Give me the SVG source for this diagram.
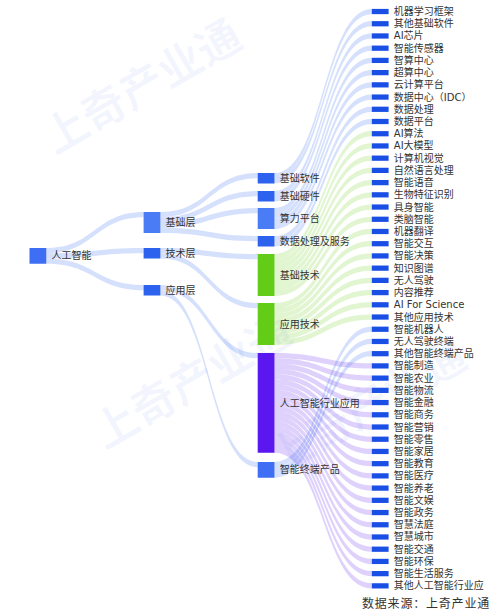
<svg xmlns="http://www.w3.org/2000/svg" width="500" height="615" viewBox="0 0 500 615">
<style>
text{font-family:"DejaVu Sans","Noto Sans CJK SC",sans-serif;font-size:10px;fill:#333;dominant-baseline:central}
.wm{font-family:"Noto Sans CJK SC",sans-serif;font-size:44px;font-weight:bold;fill:#2f66ee;fill-opacity:0.06;text-anchor:middle;dominant-baseline:auto}
.lb{fill:#2d62ee;fill-opacity:0.2}
.lg{fill:#62cc16;fill-opacity:0.2}
.lp{fill:#5b17f0;fill-opacity:0.2}
.leaf rect{fill:#1a4fe6}
.src{font-family:"Noto Sans CJK SC",sans-serif;font-size:12px;letter-spacing:0.8px;fill:#333;dominant-baseline:auto}
</style>
<rect width="500" height="615" fill="#ffffff"/>
<g id="watermark">
<text class="wm" transform="translate(150,100) rotate(-30)">上奇产业通</text>
<text class="wm" transform="translate(200,395) rotate(-30)">上奇产业通</text>
<text class="wm" transform="translate(375,420) rotate(-30)">上奇产业通</text>
</g>
<g id="links">
<path class="lb" d="M46.3 248c48.65 0 48.65 -36 97.3 -36l0 5.25c-48.65 0 -48.65 36 -97.3 36z"/>
<path class="lb" d="M46.3 253.25c48.65 0 48.65 -5.25 97.3 -5.25l0 5.25c-48.65 0 -48.65 5.25 -97.3 5.25z"/>
<path class="lb" d="M46.3 258.5c48.65 0 48.65 26.5 97.3 26.5l0 5.25c-48.65 0 -48.65 -26.5 -97.3 -26.5z"/>
<path class="lb" d="M160.4 212c48.65 0 48.65 -39 97.3 -39l0 5.25c-48.65 0 -48.65 39 -97.3 39z"/>
<path class="lb" d="M160.4 217.25c48.65 0 48.65 -26.25 97.3 -26.25l0 5.25c-48.65 0 -48.65 26.25 -97.3 26.25z"/>
<path class="lb" d="M160.4 222.5c48.65 0 48.65 -14.5 97.3 -14.5l0 5.25c-48.65 0 -48.65 14.5 -97.3 14.5z"/>
<path class="lb" d="M160.4 227.75c48.65 0 48.65 8.25 97.3 8.25l0 5.25c-48.65 0 -48.65 -8.25 -97.3 -8.25z"/>
<path class="lb" d="M160.4 248c48.65 0 48.65 6 97.3 6l0 5.25c-48.65 0 -48.65 -6 -97.3 -6z"/>
<path class="lb" d="M160.4 253.25c48.65 0 48.65 49.75 97.3 49.75l0 5.25c-48.65 0 -48.65 -49.75 -97.3 -49.75z"/>
<path class="lb" d="M160.4 285c48.65 0 48.65 68 97.3 68l0 5.25c-48.65 0 -48.65 -68 -97.3 -68z"/>
<path class="lb" d="M160.4 290.25c48.65 0 48.65 171.75 97.3 171.75l0 5.25c-48.65 0 -48.65 -171.75 -97.3 -171.75z"/>
<path class="lb" d="M274.5 173c48.65 0 48.65 -164.1 97.3 -164.1l0 5.25c-48.65 0 -48.65 164.1 -97.3 164.1z"/>
<path class="lb" d="M274.5 178.25c48.65 0 48.65 -157.13 97.3 -157.13l0 5.25c-48.65 0 -48.65 157.13 -97.3 157.13z"/>
<path class="lb" d="M274.5 191c48.65 0 48.65 -157.66 97.3 -157.66l0 5.25c-48.65 0 -48.65 157.66 -97.3 157.66z"/>
<path class="lb" d="M274.5 196.25c48.65 0 48.65 -150.69 97.3 -150.69l0 5.25c-48.65 0 -48.65 150.69 -97.3 150.69z"/>
<path class="lb" d="M274.5 208c48.65 0 48.65 -150.22 97.3 -150.22l0 5.25c-48.65 0 -48.65 150.22 -97.3 150.22z"/>
<path class="lb" d="M274.5 213.25c48.65 0 48.65 -143.25 97.3 -143.25l0 5.25c-48.65 0 -48.65 143.25 -97.3 143.25z"/>
<path class="lb" d="M274.5 218.5c48.65 0 48.65 -136.28 97.3 -136.28l0 5.25c-48.65 0 -48.65 136.28 -97.3 136.28z"/>
<path class="lb" d="M274.5 223.75c48.65 0 48.65 -129.31 97.3 -129.31l0 5.25c-48.65 0 -48.65 129.31 -97.3 129.31z"/>
<path class="lb" d="M274.5 236c48.65 0 48.65 -129.34 97.3 -129.34l0 5.25c-48.65 0 -48.65 129.34 -97.3 129.34z"/>
<path class="lb" d="M274.5 241.25c48.65 0 48.65 -122.37 97.3 -122.37l0 5.25c-48.65 0 -48.65 122.37 -97.3 122.37z"/>
<path class="lg" d="M274.5 254c48.65 0 48.65 -122.9 97.3 -122.9l0 5.25c-48.65 0 -48.65 122.9 -97.3 122.9z"/>
<path class="lg" d="M274.5 259.25c48.65 0 48.65 -115.93 97.3 -115.93l0 5.25c-48.65 0 -48.65 115.93 -97.3 115.93z"/>
<path class="lg" d="M274.5 264.5c48.65 0 48.65 -108.96 97.3 -108.96l0 5.25c-48.65 0 -48.65 108.96 -97.3 108.96z"/>
<path class="lg" d="M274.5 269.75c48.65 0 48.65 -101.99 97.3 -101.99l0 5.25c-48.65 0 -48.65 101.99 -97.3 101.99z"/>
<path class="lg" d="M274.5 275c48.65 0 48.65 -95.02 97.3 -95.02l0 5.25c-48.65 0 -48.65 95.02 -97.3 95.02z"/>
<path class="lg" d="M274.5 280.25c48.65 0 48.65 -88.05 97.3 -88.05l0 5.25c-48.65 0 -48.65 88.05 -97.3 88.05z"/>
<path class="lg" d="M274.5 285.5c48.65 0 48.65 -81.08 97.3 -81.08l0 5.25c-48.65 0 -48.65 81.08 -97.3 81.08z"/>
<path class="lg" d="M274.5 290.75c48.65 0 48.65 -74.11 97.3 -74.11l0 5.25c-48.65 0 -48.65 74.11 -97.3 74.11z"/>
<path class="lg" d="M274.5 303c48.65 0 48.65 -74.14 97.3 -74.14l0 5.25c-48.65 0 -48.65 74.14 -97.3 74.14z"/>
<path class="lg" d="M274.5 308.25c48.65 0 48.65 -67.17 97.3 -67.17l0 5.25c-48.65 0 -48.65 67.17 -97.3 67.17z"/>
<path class="lg" d="M274.5 313.5c48.65 0 48.65 -60.2 97.3 -60.2l0 5.25c-48.65 0 -48.65 60.2 -97.3 60.2z"/>
<path class="lg" d="M274.5 318.75c48.65 0 48.65 -53.23 97.3 -53.23l0 5.25c-48.65 0 -48.65 53.23 -97.3 53.23z"/>
<path class="lg" d="M274.5 324c48.65 0 48.65 -46.26 97.3 -46.26l0 5.25c-48.65 0 -48.65 46.26 -97.3 46.26z"/>
<path class="lg" d="M274.5 329.25c48.65 0 48.65 -39.29 97.3 -39.29l0 5.25c-48.65 0 -48.65 39.29 -97.3 39.29z"/>
<path class="lg" d="M274.5 334.5c48.65 0 48.65 -32.32 97.3 -32.32l0 5.25c-48.65 0 -48.65 32.32 -97.3 32.32z"/>
<path class="lg" d="M274.5 339.75c48.65 0 48.65 -25.35 97.3 -25.35l0 5.25c-48.65 0 -48.65 25.35 -97.3 25.35z"/>
<path class="lp" d="M274.5 353c48.65 0 48.65 10.28 97.3 10.28l0 5.25c-48.65 0 -48.65 -10.28 -97.3 -10.28z"/>
<path class="lp" d="M274.5 358.25c48.65 0 48.65 17.25 97.3 17.25l0 5.25c-48.65 0 -48.65 -17.25 -97.3 -17.25z"/>
<path class="lp" d="M274.5 363.5c48.65 0 48.65 24.22 97.3 24.22l0 5.25c-48.65 0 -48.65 -24.22 -97.3 -24.22z"/>
<path class="lp" d="M274.5 368.75c48.65 0 48.65 31.19 97.3 31.19l0 5.25c-48.65 0 -48.65 -31.19 -97.3 -31.19z"/>
<path class="lp" d="M274.5 374c48.65 0 48.65 38.16 97.3 38.16l0 5.25c-48.65 0 -48.65 -38.16 -97.3 -38.16z"/>
<path class="lp" d="M274.5 379.25c48.65 0 48.65 45.13 97.3 45.13l0 5.25c-48.65 0 -48.65 -45.13 -97.3 -45.13z"/>
<path class="lp" d="M274.5 384.5c48.65 0 48.65 52.1 97.3 52.1l0 5.25c-48.65 0 -48.65 -52.1 -97.3 -52.1z"/>
<path class="lp" d="M274.5 389.75c48.65 0 48.65 59.07 97.3 59.07l0 5.25c-48.65 0 -48.65 -59.07 -97.3 -59.07z"/>
<path class="lp" d="M274.5 395c48.65 0 48.65 66.04 97.3 66.04l0 5.25c-48.65 0 -48.65 -66.04 -97.3 -66.04z"/>
<path class="lp" d="M274.5 400.25c48.65 0 48.65 73.01 97.3 73.01l0 5.25c-48.65 0 -48.65 -73.01 -97.3 -73.01z"/>
<path class="lp" d="M274.5 405.5c48.65 0 48.65 79.98 97.3 79.98l0 5.25c-48.65 0 -48.65 -79.98 -97.3 -79.98z"/>
<path class="lp" d="M274.5 410.75c48.65 0 48.65 86.95 97.3 86.95l0 5.25c-48.65 0 -48.65 -86.95 -97.3 -86.95z"/>
<path class="lp" d="M274.5 416c48.65 0 48.65 93.92 97.3 93.92l0 5.25c-48.65 0 -48.65 -93.92 -97.3 -93.92z"/>
<path class="lp" d="M274.5 421.25c48.65 0 48.65 100.89 97.3 100.89l0 5.25c-48.65 0 -48.65 -100.89 -97.3 -100.89z"/>
<path class="lp" d="M274.5 426.5c48.65 0 48.65 107.86 97.3 107.86l0 5.25c-48.65 0 -48.65 -107.86 -97.3 -107.86z"/>
<path class="lp" d="M274.5 431.75c48.65 0 48.65 114.83 97.3 114.83l0 5.25c-48.65 0 -48.65 -114.83 -97.3 -114.83z"/>
<path class="lp" d="M274.5 437c48.65 0 48.65 121.8 97.3 121.8l0 5.25c-48.65 0 -48.65 -121.8 -97.3 -121.8z"/>
<path class="lp" d="M274.5 442.25c48.65 0 48.65 128.77 97.3 128.77l0 5.25c-48.65 0 -48.65 -128.77 -97.3 -128.77z"/>
<path class="lp" d="M274.5 447.5c48.65 0 48.65 135.74 97.3 135.74l0 5.25c-48.65 0 -48.65 -135.74 -97.3 -135.74z"/>
<path class="lb" d="M274.5 462c48.65 0 48.65 -135.38 97.3 -135.38l0 5.25c-48.65 0 -48.65 135.38 -97.3 135.38z"/>
<path class="lb" d="M274.5 467.25c48.65 0 48.65 -128.41 97.3 -128.41l0 5.25c-48.65 0 -48.65 128.41 -97.3 128.41z"/>
<path class="lb" d="M274.5 472.5c48.65 0 48.65 -121.44 97.3 -121.44l0 5.25c-48.65 0 -48.65 121.44 -97.3 121.44z"/>
</g>
<g id="n-root"><rect x="29.5" y="248" width="16.8" height="15.75" fill="#3e6ef3"/><text x="51.5" y="255.9">人工智能</text></g>
<g id="n-jichuceng"><rect x="143.6" y="212" width="16.8" height="21" fill="#4a7cf6"/><text x="165.6" y="222.5">基础层</text></g>
<g id="n-jishuceng"><rect x="143.6" y="248" width="16.8" height="10.5" fill="#2d62ee"/><text x="165.6" y="253.25">技术层</text></g>
<g id="n-yingyongceng"><rect x="143.6" y="285" width="16.8" height="10.5" fill="#2d62ee"/><text x="165.6" y="290.25">应用层</text></g>
<g id="n-jcrj"><rect x="257.7" y="173" width="16.8" height="10.5" fill="#2d62ee"/><text x="279.7" y="178.25">基础软件</text></g>
<g id="n-jcyj"><rect x="257.7" y="191" width="16.8" height="10.5" fill="#2d62ee"/><text x="279.7" y="196.25">基础硬件</text></g>
<g id="n-slpt"><rect x="257.7" y="208" width="16.8" height="21" fill="#4a7cf6"/><text x="279.7" y="218.5">算力平台</text></g>
<g id="n-sjcl"><rect x="257.7" y="236" width="16.8" height="10.5" fill="#2d62ee"/><text x="279.7" y="241.25">数据处理及服务</text></g>
<g id="n-jcjs"><rect x="257.7" y="254" width="16.8" height="42" fill="#62cc16"/><text x="279.7" y="275">基础技术</text></g>
<g id="n-yyjs"><rect x="257.7" y="303" width="16.8" height="42" fill="#62cc16"/><text x="279.7" y="324">应用技术</text></g>
<g id="n-hyyy"><rect x="257.7" y="353" width="16.8" height="99.75" fill="#5b17f0"/><text x="279.7" y="403">人工智能行业应用</text></g>
<g id="n-zdcp"><rect x="257.7" y="462" width="16.8" height="15.75" fill="#3e6ef3"/><text x="279.7" y="469.9">智能终端产品</text></g>
<g class="leaf">
<g id="l0"><rect x="371.8" y="8.9" width="16.8" height="5.25"/><text x="393.8" y="11.53">机器学习框架</text></g>
<g id="l1"><rect x="371.8" y="21.12" width="16.8" height="5.25"/><text x="393.8" y="23.75">其他基础软件</text></g>
<g id="l2"><rect x="371.8" y="33.34" width="16.8" height="5.25"/><text x="393.8" y="35.97">AI芯片</text></g>
<g id="l3"><rect x="371.8" y="45.56" width="16.8" height="5.25"/><text x="393.8" y="48.19">智能传感器</text></g>
<g id="l4"><rect x="371.8" y="57.78" width="16.8" height="5.25"/><text x="393.8" y="60.41">智算中心</text></g>
<g id="l5"><rect x="371.8" y="70" width="16.8" height="5.25"/><text x="393.8" y="72.63">超算中心</text></g>
<g id="l6"><rect x="371.8" y="82.22" width="16.8" height="5.25"/><text x="393.8" y="84.85">云计算平台</text></g>
<g id="l7"><rect x="371.8" y="94.44" width="16.8" height="5.25"/><text x="393.8" y="97.07">数据中心（IDC）</text></g>
<g id="l8"><rect x="371.8" y="106.66" width="16.8" height="5.25"/><text x="393.8" y="109.29">数据处理</text></g>
<g id="l9"><rect x="371.8" y="118.88" width="16.8" height="5.25"/><text x="393.8" y="121.51">数据平台</text></g>
<g id="l10"><rect x="371.8" y="131.1" width="16.8" height="5.25"/><text x="393.8" y="133.73">AI算法</text></g>
<g id="l11"><rect x="371.8" y="143.32" width="16.8" height="5.25"/><text x="393.8" y="145.95">AI大模型</text></g>
<g id="l12"><rect x="371.8" y="155.54" width="16.8" height="5.25"/><text x="393.8" y="158.17">计算机视觉</text></g>
<g id="l13"><rect x="371.8" y="167.76" width="16.8" height="5.25"/><text x="393.8" y="170.39">自然语言处理</text></g>
<g id="l14"><rect x="371.8" y="179.98" width="16.8" height="5.25"/><text x="393.8" y="182.61">智能语音</text></g>
<g id="l15"><rect x="371.8" y="192.2" width="16.8" height="5.25"/><text x="393.8" y="194.83">生物特征识别</text></g>
<g id="l16"><rect x="371.8" y="204.42" width="16.8" height="5.25"/><text x="393.8" y="207.05">具身智能</text></g>
<g id="l17"><rect x="371.8" y="216.64" width="16.8" height="5.25"/><text x="393.8" y="219.27">类脑智能</text></g>
<g id="l18"><rect x="371.8" y="228.86" width="16.8" height="5.25"/><text x="393.8" y="231.49">机器翻译</text></g>
<g id="l19"><rect x="371.8" y="241.08" width="16.8" height="5.25"/><text x="393.8" y="243.71">智能交互</text></g>
<g id="l20"><rect x="371.8" y="253.3" width="16.8" height="5.25"/><text x="393.8" y="255.93">智能决策</text></g>
<g id="l21"><rect x="371.8" y="265.52" width="16.8" height="5.25"/><text x="393.8" y="268.15">知识图谱</text></g>
<g id="l22"><rect x="371.8" y="277.74" width="16.8" height="5.25"/><text x="393.8" y="280.37">无人驾驶</text></g>
<g id="l23"><rect x="371.8" y="289.96" width="16.8" height="5.25"/><text x="393.8" y="292.59">内容推荐</text></g>
<g id="l24"><rect x="371.8" y="302.18" width="16.8" height="5.25"/><text x="393.8" y="304.81">AI For Science</text></g>
<g id="l25"><rect x="371.8" y="314.4" width="16.8" height="5.25"/><text x="393.8" y="317.03">其他应用技术</text></g>
<g id="l26"><rect x="371.8" y="326.62" width="16.8" height="5.25"/><text x="393.8" y="329.25">智能机器人</text></g>
<g id="l27"><rect x="371.8" y="338.84" width="16.8" height="5.25"/><text x="393.8" y="341.47">无人驾驶终端</text></g>
<g id="l28"><rect x="371.8" y="351.06" width="16.8" height="5.25"/><text x="393.8" y="353.69">其他智能终端产品</text></g>
<g id="l29"><rect x="371.8" y="363.28" width="16.8" height="5.25"/><text x="393.8" y="365.91">智能制造</text></g>
<g id="l30"><rect x="371.8" y="375.5" width="16.8" height="5.25"/><text x="393.8" y="378.13">智能农业</text></g>
<g id="l31"><rect x="371.8" y="387.72" width="16.8" height="5.25"/><text x="393.8" y="390.35">智能物流</text></g>
<g id="l32"><rect x="371.8" y="399.94" width="16.8" height="5.25"/><text x="393.8" y="402.57">智能金融</text></g>
<g id="l33"><rect x="371.8" y="412.16" width="16.8" height="5.25"/><text x="393.8" y="414.79">智能商务</text></g>
<g id="l34"><rect x="371.8" y="424.38" width="16.8" height="5.25"/><text x="393.8" y="427.01">智能营销</text></g>
<g id="l35"><rect x="371.8" y="436.6" width="16.8" height="5.25"/><text x="393.8" y="439.23">智能零售</text></g>
<g id="l36"><rect x="371.8" y="448.82" width="16.8" height="5.25"/><text x="393.8" y="451.45">智能家居</text></g>
<g id="l37"><rect x="371.8" y="461.04" width="16.8" height="5.25"/><text x="393.8" y="463.67">智能教育</text></g>
<g id="l38"><rect x="371.8" y="473.26" width="16.8" height="5.25"/><text x="393.8" y="475.89">智能医疗</text></g>
<g id="l39"><rect x="371.8" y="485.48" width="16.8" height="5.25"/><text x="393.8" y="488.11">智能养老</text></g>
<g id="l40"><rect x="371.8" y="497.7" width="16.8" height="5.25"/><text x="393.8" y="500.33">智能文娱</text></g>
<g id="l41"><rect x="371.8" y="509.92" width="16.8" height="5.25"/><text x="393.8" y="512.55">智能政务</text></g>
<g id="l42"><rect x="371.8" y="522.14" width="16.8" height="5.25"/><text x="393.8" y="524.77">智慧法庭</text></g>
<g id="l43"><rect x="371.8" y="534.36" width="16.8" height="5.25"/><text x="393.8" y="536.99">智慧城市</text></g>
<g id="l44"><rect x="371.8" y="546.58" width="16.8" height="5.25"/><text x="393.8" y="549.21">智能交通</text></g>
<g id="l45"><rect x="371.8" y="558.8" width="16.8" height="5.25"/><text x="393.8" y="561.43">智能环保</text></g>
<g id="l46"><rect x="371.8" y="571.02" width="16.8" height="5.25"/><text x="393.8" y="573.65">智能生活服务</text></g>
<g id="l47"><rect x="371.8" y="583.24" width="16.8" height="5.25"/><text x="393.8" y="585.87">其他人工智能行业应</text></g>
</g>
<text class="src" x="362" y="608">数据来源：上奇产业通</text>
</svg>
